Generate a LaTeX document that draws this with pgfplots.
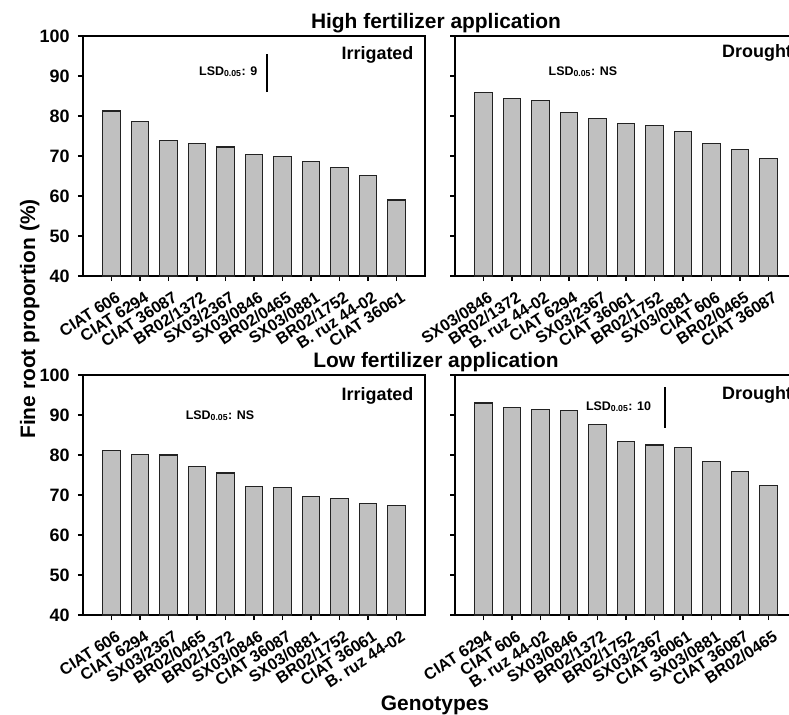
\documentclass[border=0pt]{standalone}
\usepackage{fontspec}
\setmainfont{Liberation Sans}
\usepackage{pgfplots}
\pgfplotsset{compat=1.18}
\definecolor{barfill}{HTML}{C0C0C0}
\definecolor{baredge}{HTML}{222222}
\pgfplotsset{
 panel/.style={
  scale only axis, width=342bp, height=240bp,
  xmin=-1, xmax=11, ymin=40, ymax=100,
  xtick={0,...,10}, ytick={40,50,...,100},
  axis line style={line width=2.8bp},
  tick style={line width=1.6bp, black},
  tick align=outside, major tick length=5bp,
  xtick pos=left, ytick pos=left,
  /pgf/number format/assume math mode=true,
  yticklabel style={font=\bfseries\fontsize{18}{18}\selectfont, xshift=-5bp},
  xticklabel style={font=\bfseries\fontsize{16.3}{16.3}\selectfont, xshift=4bp, yshift=-8bp, rotate=33, anchor=north east, inner sep=1bp},
 },
 bars/.style={ybar, bar width=0.61, fill=barfill, draw=baredge, line width=1.1bp},
 lsd/.style={black, line width=2.2bp, no marks},
}
\newcommand{\lsdfont}{\bfseries\fontsize{12.5}{13}\selectfont}
\newcommand{\panfont}{\bfseries\fontsize{18}{18}\selectfont}
\newcommand{\titfont}{\bfseries\fontsize{21}{21}\selectfont}
\begin{document}
\begin{tikzpicture}
% Top left: high fertilizer, irrigated
\begin{axis}[panel, at={(83bp,-276bp)}, anchor=south west,
  xticklabels={CIAT 606, CIAT 6294, CIAT 36087, BR02/1372, SX03/2367, SX03/0846, BR02/0465, SX03/0881, BR02/1752, B. ruz 44-02, CIAT 36061}]
\addplot[bars] coordinates {(0,81.25) (1,78.7) (2,73.8) (3,73.1) (4,72.25) (5,70.4) (6,69.8) (7,68.7) (8,67.2) (9,65.1) (10,59.0)};
\addplot[lsd] coordinates {(5.46,86.0) (5.46,95.6)};
\node[anchor=base west, inner sep=0, font=\lsdfont] at (axis cs:3.07,90.25) {LSD\textsubscript{0.05}: 9};
\node[anchor=base east, inner sep=0, font=\panfont] at (axis cs:10.6,94.1) {Irrigated};
\end{axis}
% Top right: high fertilizer, drought
\begin{axis}[panel, at={(455bp,-276bp)}, anchor=south west, yticklabels={},
  xticklabels={SX03/0846, BR02/1372, B. ruz 44-02, CIAT 6294, SX03/2367, CIAT 36061, BR02/1752, SX03/0881, CIAT 606, BR02/0465, CIAT 36087}]
\addplot[bars] coordinates {(0,85.9) (1,84.3) (2,83.8) (3,80.9) (4,79.3) (5,78.2) (6,77.7) (7,76.2) (8,73.2) (9,71.6) (10,69.4)};
\node[anchor=base west, inner sep=0, font=\lsdfont] at (axis cs:2.28,90.25) {LSD\textsubscript{0.05}: NS};
\node[anchor=base east, inner sep=0, font=\panfont] at (axis cs:10.83,94.6) {Drought};
\end{axis}
% Bottom left: low fertilizer, irrigated
\begin{axis}[panel, at={(83bp,-615bp)}, anchor=south west,
  xticklabels={CIAT 606, CIAT 6294, SX03/2367, BR02/0465, BR02/1372, SX03/0846, CIAT 36087, SX03/0881, BR02/1752, CIAT 36061, B. ruz 44-02}]
\addplot[bars] coordinates {(0,81.1) (1,80.2) (2,80.0) (3,77.2) (4,75.5) (5,72.1) (6,71.9) (7,69.7) (8,69.2) (9,67.8) (10,67.4)};
\node[anchor=base west, inner sep=0, font=\lsdfont] at (axis cs:2.6,89.0) {LSD\textsubscript{0.05}: NS};
\node[anchor=base east, inner sep=0, font=\panfont] at (axis cs:10.6,93.75) {Irrigated};
\end{axis}
% Bottom right: low fertilizer, drought
\begin{axis}[panel, at={(455bp,-615bp)}, anchor=south west, yticklabels={},
  xticklabels={CIAT 6294, CIAT 606, B. ruz 44-02, SX03/0846, BR02/1372, BR02/1752, SX03/2367, CIAT 36061, SX03/0881, CIAT 36087, BR02/0465}]
\addplot[bars] coordinates {(0,93.0) (1,91.9) (2,91.4) (3,91.2) (4,87.6) (5,83.4) (6,82.5) (7,81.8) (8,78.3) (9,75.8) (10,72.4)};
\addplot[lsd] coordinates {(6.36,86.8) (6.36,97.0)};
\node[anchor=base west, inner sep=0, font=\lsdfont] at (axis cs:3.59,91.25) {LSD\textsubscript{0.05}: 10};
\node[anchor=base east, inner sep=0, font=\panfont] at (axis cs:10.83,93.8) {Drought};
\end{axis}
\node[anchor=base, font=\titfont] at (436bp,-28bp) {High fertilizer application};
\node[anchor=base, font=\titfont] at (436bp,-367bp) {Low fertilizer application};
\node[anchor=base, rotate=90, font=\titfont] at (35bp,-319bp) {Fine root proportion (\%)};
\node[anchor=base, font=\titfont] at (435bp,-710bp) {Genotypes};
\pgfresetboundingbox
\path[use as bounding box] (0bp,0bp) rectangle (789bp,-715bp);
\end{tikzpicture}
\end{document}
